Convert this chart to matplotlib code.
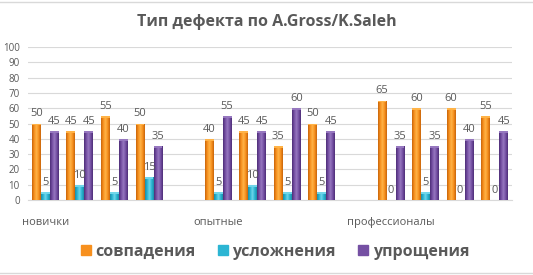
import numpy as np
import matplotlib
matplotlib.use('Agg')
import matplotlib.pyplot as plt
from matplotlib.colors import LinearSegmentedColormap
from matplotlib.patches import Rectangle

plt.rcParams['font.family'] = ['Open Sans', 'DejaVu Sans']

# data: 14 category slots, empty slots separate the three groups
group_labels = ['новички', '', '', '', '', 'опытные', '', '', '', '', 'профессионалы', '', '', '']
sovpadeniya = [50, 45, 55, 50, None, 40, 45, 35, 50, None, 65, 60, 60, 55]
uslozhneniya = [5, 10, 5, 15, None, 5, 10, 5, 5, None, 0, 5, 0, 0]
uprosheniya = [45, 45, 40, 35, None, 55, 45, 60, 45, None, 35, 35, 40, 45]
series_names = ['совпадения', 'усложнения', 'упрощения']

# gradient colours (edge, centre) per series
grads = [
    ['#c8650a', '#f7901e', '#ffb347', '#f7901e', '#c8650a'],
    ['#1a8fa8', '#2cb5d3', '#6fd6ea', '#2cb5d3', '#1a8fa8'],
    ['#4e2e78', '#7550a3', '#9677bf', '#7550a3', '#4e2e78'],
]
text_col = '#595959'

fig = plt.figure(figsize=(5.33, 2.75), dpi=100)
ax = fig.add_axes([28/533, 1-200/275, 484/533, 153/275])

x = np.arange(len(group_labels))
w = 0.26
allvals = [sovpadeniya, uslozhneniya, uprosheniya]
for s, vals in enumerate(allvals):
    cm = LinearSegmentedColormap.from_list('g%d' % s, grads[s])
    grad = np.linspace(0, 1, 64).reshape(1, -1)
    for i, v in enumerate(vals):
        if v is None:
            continue
        xc = x[i] + (s - 1) * w
        if v > 0:
            bar = ax.bar(xc, v, w * 0.98, color=grads[s][1], linewidth=0, zorder=2)[0]
            im = ax.imshow(grad, cmap=cm, aspect='auto', zorder=3,
                           extent=[xc - w*0.49, xc + w*0.49, 0, v])
            im.set_clip_path(bar)
            # light top cap
            ax.add_patch(Rectangle((xc - w*0.49, v - 1.2), w*0.98, 1.2,
                                   color=grads[s][2], lw=0, zorder=4))
        ax.annotate(str(v), (xc, v), xytext=(0, 3), textcoords='offset points',
                    ha='center', va='bottom', fontsize=8, color=text_col, zorder=5)

ax.set_xlim(-0.5, len(group_labels) - 0.5)
ax.set_ylim(0, 100)
ax.set_yticks(np.arange(0, 101, 10))
ax.set_xticks(x)
ax.set_xticklabels(group_labels)
ax.tick_params(axis='x', length=0, pad=12, labelsize=8, labelcolor=text_col)
ax.tick_params(axis='y', length=0, pad=6, labelsize=7, labelcolor=text_col)
ax.grid(axis='y', color='#d9d9d9', lw=0.8, zorder=0)
ax.set_axisbelow(True)
for sp in ['top', 'right', 'left']:
    ax.spines[sp].set_visible(False)
ax.spines['bottom'].set_color('#d9d9d9')

fig.text(0.5, 1-22/275, 'Тип дефекта по A.Gross/K.Saleh', ha='center', va='center',
         fontsize=11.5, fontweight='bold', color=text_col)

handles = [Rectangle((0, 0), 1, 1, color=g[1]) for g in grads]
leg = fig.legend(handles, series_names, loc='center', bbox_to_anchor=(0.516, 1-252/275),
                 ncol=3, frameon=False, handlelength=0.6, handleheight=0.6,
                 handletextpad=0.3, columnspacing=1.4,
                 prop={'size': 11.5, 'weight': 'bold'})
for t in leg.get_texts():
    t.set_color(text_col)

# light frame lines top and bottom
fig.add_artist(plt.Line2D([0, 1], [1-2/275, 1-2/275], color='#d9d9d9', lw=1))
fig.add_artist(plt.Line2D([0, 1], [1-273/275, 1-273/275], color='#d9d9d9', lw=1))

fig.savefig('out.png', dpi=100)
